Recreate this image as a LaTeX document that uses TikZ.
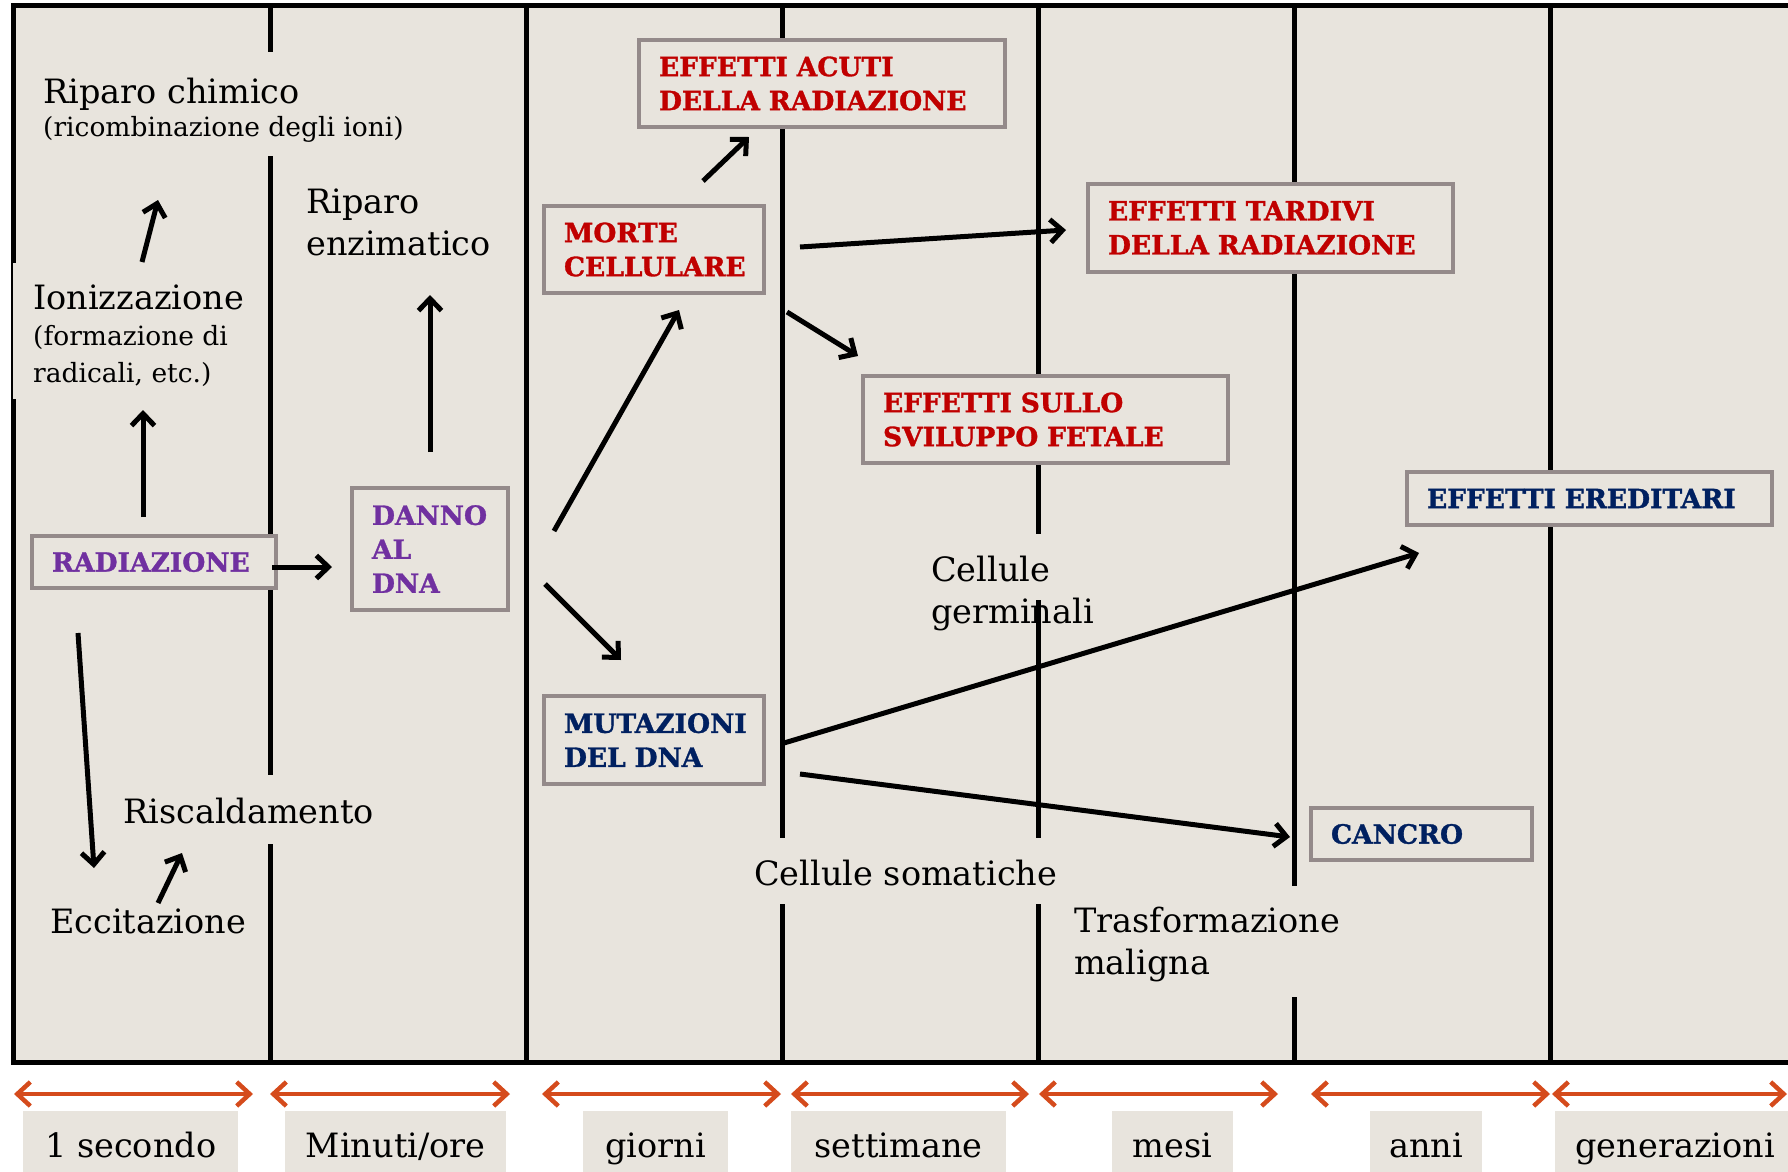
\documentclass[tikz,border=0pt]{standalone}
\usepackage{fontspec}
\setmainfont{DejaVu Serif}
\newfontfamily\fxheavyfont{DejaVu Serif}[BoldFeatures={FakeBold=1.2}]
\usepackage{xcolor}
\definecolor{pagebg}{HTML}{E8E4DD}
\definecolor{boxgray}{HTML}{948A8A}
\definecolor{fxred}{HTML}{C00000}
\definecolor{fxpurple}{HTML}{7030A0}
\definecolor{fxnavy}{HTML}{002060}
\definecolor{spanorange}{HTML}{D54B1C}
\usetikzlibrary{arrows.meta}

\newcommand{\fxtext}{\fontsize{33.5}{41.5}\selectfont}
\newcommand{\fxsmall}{\fontsize{26.5}{36.5}\selectfont}
\newcommand{\fxbold}{\fxheavyfont\fontsize{26.5}{34}\selectfont\bfseries}

\begin{document}
\begin{tikzpicture}[
    x=1pt, y=-1pt,
    fxbox/.style={draw=boxgray, fill=pagebg, line width=4pt, inner xsep=20pt,
                  inner ysep=0pt, align=left, font=\fxbold},
    lbl/.style={anchor=base west, inner sep=0pt, align=left, font=\fxtext},
    sublbl/.style={lbl, font=\fxsmall},
    sep/.style={line width=5pt},
    arr/.style={-{Straight Barb[length=12pt,width=23pt]}, line width=5pt},
    span/.style={{Straight Barb[length=13pt,width=24pt]}-{Straight Barb[length=13pt,width=24pt]},
                 draw=spanorange, line width=4.5pt},
    unitbox/.style={fill=pagebg, anchor=north west, inner sep=0pt, minimum height=61pt,
                    text height=33pt, text depth=2pt, font=\fxtext},
  ]
  \useasboundingbox (0,0) rectangle (1788,1172);
  \fill[white] (0,0) rectangle (1788,1172);

  % ---------- time grid ----------
  \fill[pagebg] (13,6) rectangle (1800,1062);
  \foreach \x/\a/\b in {270/6/52, 270/156/775, 270/844/1062, 526/6/1062,
                        782/6/838, 782/904/1062, 1038/6/534, 1038/600/838,
                        1038/904/1062, 1294/6/886, 1294/997/1062, 1550/6/1062}
    \draw[sep] (\x,\a) -- (\x,\b);
  \draw[sep] (13,263) -- (13,6) -- (1800,6);
  \draw[sep] (13,399) -- (13,1062) -- (1800,1062);
  \draw[line width=2pt] (12,263) -- (12,399);

  % ---------- plain labels (base = last line) ----------
  \node[lbl] (chim) at (43,103) {Riparo chimico};
  \node[sublbl] (chimsub) at (43,136) {(ricombinazione degli ioni)};
  \node[lbl] (enz) at (306,255) {Riparo\\enzimatico};
  \node[lbl] (ion) at (33,309) {Ionizzazione};
  \node[sublbl] (ionsub) at (33,382) {(formazione di\\radicali, etc.)};
  \node[lbl] (risc) at (123,823) {Riscaldamento};
  \node[lbl] (ecc) at (50,933) {Eccitazione};
  \node[lbl] (germ) at (931,623) {Cellule\\germinali};
  \node[lbl] (soma) at (754,885) {Cellule somatiche};
  \node[lbl] (trasf) at (1074,974) {Trasformazione\\maligna};

  % ---------- effect boxes ----------
  \node[fxbox, text=fxpurple, minimum width=244pt, minimum height=52pt, text width=204pt]
    (rad) at (154,562) {RADIAZIONE};
  \node[fxbox, text=fxpurple, minimum width=156pt, minimum height=122pt, text width=116pt]
    (danno) at (430,549) {DANNO\\AL\\DNA};
  \node[fxbox, text=fxred, minimum width=220pt, minimum height=87pt, text width=180pt]
    (morte) at (654,249.5) {MORTE\\CELLULARE};
  \node[fxbox, text=fxnavy, minimum width=220pt, minimum height=88pt, text width=180pt]
    (mut) at (654,740) {MUTAZIONI\\DEL DNA};
  \node[fxbox, text=fxred, minimum width=366pt, minimum height=87pt, text width=326pt]
    (acuti) at (822,83.5) {EFFETTI ACUTI\\DELLA RADIAZIONE};
  \node[fxbox, text=fxred, minimum width=365pt, minimum height=88pt, text width=325pt]
    (tardivi) at (1270.5,228) {EFFETTI TARDIVI\\DELLA RADIAZIONE};
  \node[fxbox, text=fxred, minimum width=365pt, minimum height=87pt, text width=325pt]
    (sullo) at (1045.5,419.5) {EFFETTI SULLO\\SVILUPPO FETALE};
  \node[fxbox, text=fxnavy, minimum width=365pt, minimum height=53pt, text width=325pt]
    (ered) at (1589.5,498.5) {EFFETTI EREDITARI};
  \node[fxbox, text=fxnavy, minimum width=221pt, minimum height=52pt, text width=181pt]
    (cancro) at (1421.5,834) {CANCRO};

  % ---------- free ends next to the plain labels ----------
  \coordinate (ion-top) at (142,262);
  \coordinate (chim-foot) at (158,200);
  \coordinate (ion-foot) at (143,410);
  \coordinate (enz-foot) at (430,295);
  \coordinate (ecc-top) at (94,868);
  \coordinate (ecc-right) at (158,903);
  \coordinate (risc-foot) at (182,853);

  % ---------- flow ----------
  \draw[arr] (ion-top) -- (chim-foot);
  \draw[arr] ([shift={(-11,-17)}]rad.north) -- (ion-foot);
  \draw[arr] ([shift={(-6,5)}]rad.east) -- ([shift={(-18,18)}]danno.west);
  \draw[arr] ([shift={(0,-34)}]danno.north) -- (enz-foot);
  \draw[arr] ([shift={(44,-18)}]danno.east) -- ([shift={(25,15)}]morte.south);
  \draw[arr] ([shift={(35,35)}]danno.east) -- ([shift={(-33,-34)}]mut.north);
  \draw[arr] ([shift={(49,-23)}]morte.north) -- ([shift={(-73,8)}]acuti.south);
  \draw[arr] ([shift={(34,-2.5)}]morte.east) -- ([shift={(-20,2)}]tardivi.west);
  \draw[arr] ([shift={(21,17)}]morte.south east) -- ([shift={(-3,-18)}]sullo.north west);
  \draw[arr] ([shift={(18,3)}]mut.east) -- ([shift={(14,26)}]ered.south west);
  \draw[arr] ([shift={(34,34)}]mut.east) -- ([shift={(-19,3)}]cancro.west);
  \draw[arr] ([shift={(-76,43)}]rad.south) -- (ecc-top);
  \draw[arr] (ecc-right) -- (risc-foot);

  % ---------- time scale ----------
  \foreach \a/\b in {14/253, 270/510, 542/781, 791/1029, 1039/1278, 1311/1550, 1552/1787}
    \draw[span] (\a,1094) -- (\b,1094);
  \foreach \xa/\w/\t [count=\i] in {23/215/{1 secondo}, 285/221/{Minuti/ore},
                                    583/145/{giorni}, 791/215/{settimane},
                                    1112/121/{mesi}, 1370/112/{anni},
                                    1555/240/{generazioni}}
    \node[unitbox, minimum width=\w pt] (unit\i) at (\xa,1111) {\t};

\end{tikzpicture}
\end{document}
